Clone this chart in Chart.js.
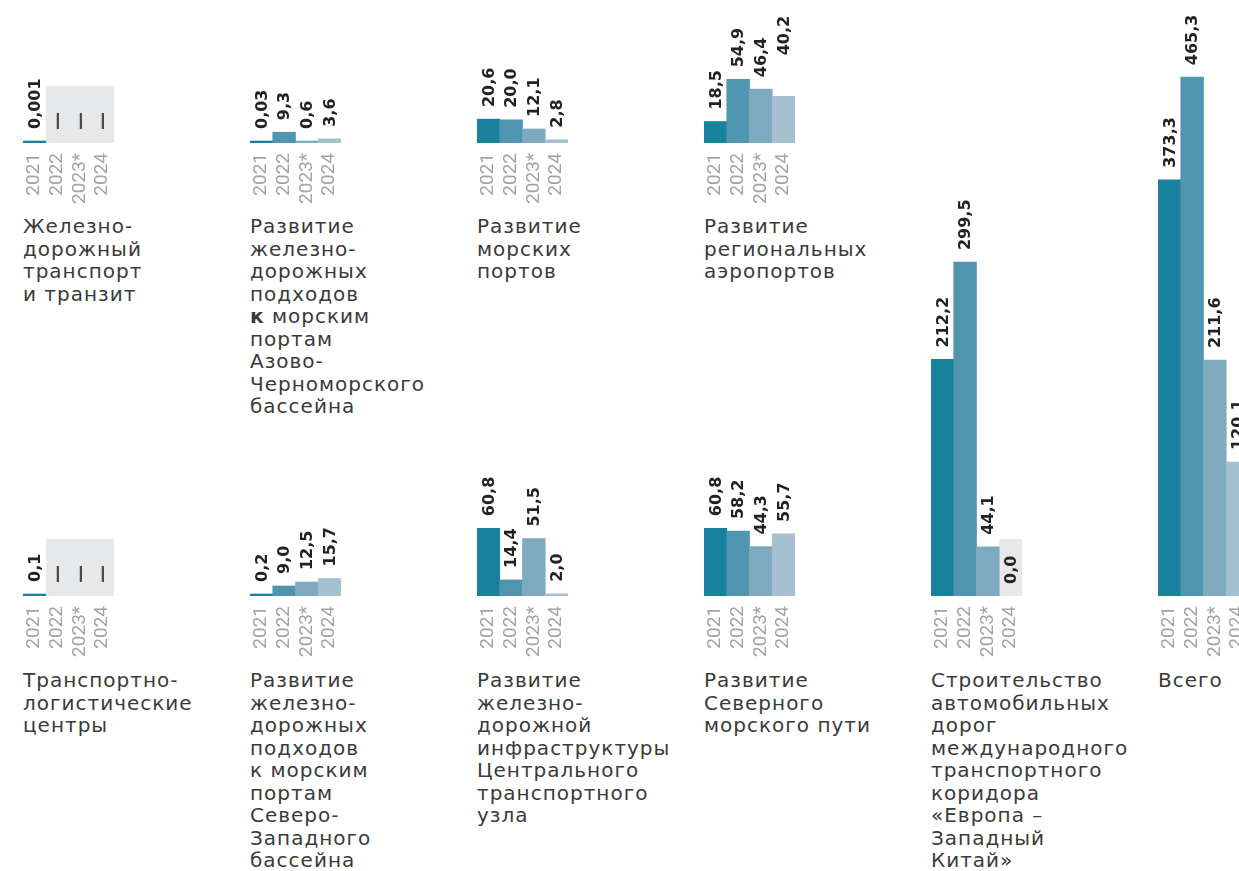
<!DOCTYPE html>
<html lang="ru">
<head>
<meta charset="utf-8">
<script src="https://cdn.jsdelivr.net/npm/chart.js@4.4.1/dist/chart.umd.min.js"></script>
<style>
  html, body { margin: 0; padding: 0; width: 1239px; height: 871px; overflow: hidden; background: #ffffff; }
  .panel { position: absolute; }
  .cap {
    position: absolute;
    font-family: "DejaVu Sans", sans-serif;
    font-size: 20px;
    line-height: 22.5px;
    color: #3a3a3a;
    letter-spacing: 1px;
    white-space: nowrap;
  }
  .cap b { font-weight: bold; }
</style>
</head>
<body>
<script>
// ---------- DATA ----------
const years = ['2021', '2022', '2023*', '2024'];

const railTransit      = [0.001, null, null, null];
const railAzovBlackSea = [0.03, 9.3, 0.6, 3.6];
const seaPorts         = [20.6, 20.0, 12.1, 2.8];
const regionalAirports = [18.5, 54.9, 46.4, 40.2];
const logisticsCenters = [0.1, null, null, null];
const railNorthWest    = [0.2, 9.0, 12.5, 15.7];
const railCentralHub   = [60.8, 14.4, 51.5, 2.0];
const northernSeaRoute = [60.8, 58.2, 44.3, 55.7];
const europeWestChina  = [212.2, 299.5, 44.1, 0.0];
const totalAll         = [373.3, 465.3, 211.6, 120.1];

const titleRailTransit      = ['Железно-', 'дорожный', 'транспорт', 'и транзит'];
const titleRailAzovBlackSea = ['Развитие', 'железно-', 'дорожных', 'подходов', '<b>к</b> морским', 'портам', 'Азово-', 'Черноморского', 'бассейна'];
const titleSeaPorts         = ['Развитие', 'морских', 'портов'];
const titleRegionalAirports = ['Развитие', 'региональных', 'аэропортов'];
const titleLogisticsCenters = ['Транспортно-', 'логистические', 'центры'];
const titleRailNorthWest    = ['Развитие', 'железно-', 'дорожных', 'подходов', 'к морским', 'портам', 'Северо-', 'Западного', 'бассейна'];
const titleRailCentralHub   = ['Развитие', 'железно-', 'дорожной', 'инфраструктуры', 'Центрального', 'транспортного', 'узла'];
const titleNorthernSeaRoute = ['Развитие', 'Северного', 'морского пути'];
const titleEuropeWestChina  = ['Строительство', 'автомобильных', 'дорог', 'международного', 'транспортного', 'коридора', '«Европа –', 'Западный', 'Китай»'];
const titleTotalAll         = ['Всего'];

const naLabel = '—';

// ---------- STYLE / LAYOUT ----------
const COLORS = ['#18829d', '#5095af', '#7eaabf', '#a5c1d1'];
const EMPTY_BG = '#e7e8ea';
const ROW_PX_PER_UNIT = [1.16, 1.115];
const COL_X0 = 23, COL_STEP = 227, PLOT_W = 91, SIDE_PAD = 30;
const ROW_BASE = [143, 596];
const SMALL_H = 143;
const AXIS_H = 70;
const EMPTY_H = 57;
const LABEL_GAP = 12;

const panels = [
  { values: railTransit,      title: titleRailTransit,      col: 0, row: 0 },
  { values: railAzovBlackSea, title: titleRailAzovBlackSea, col: 1, row: 0 },
  { values: seaPorts,         title: titleSeaPorts,         col: 2, row: 0 },
  { values: regionalAirports, title: titleRegionalAirports, col: 3, row: 0, lift: { 3: 29 } },
  { values: logisticsCenters, title: titleLogisticsCenters, col: 0, row: 1 },
  { values: railNorthWest,    title: titleRailNorthWest,    col: 1, row: 1 },
  { values: railCentralHub,   title: titleRailCentralHub,   col: 2, row: 1 },
  { values: northernSeaRoute, title: titleNorthernSeaRoute, col: 3, row: 1 },
  { values: europeWestChina,  title: titleEuropeWestChina,  col: 4, row: 1, tall: true },
  { values: totalAll,         title: titleTotalAll,         col: 5, row: 1, tall: true }
];

function fmt(v) {
  return v.toLocaleString('ru-RU', { minimumFractionDigits: 1, maximumFractionDigits: 3 });
}

const emptyBoxPlugin = {
  id: 'emptyBox',
  beforeDatasetsDraw(chart) {
    const { ctx, chartArea, scales } = chart;
    const vals = chart.data.datasets[0].data;
    const bw = chartArea.width / vals.length;
    const base = scales.y.getPixelForValue(0);
    ctx.save();
    ctx.fillStyle = EMPTY_BG;
    vals.forEach((v, i) => {
      if (v === null || v === 0) {
        const x0 = Math.round(chartArea.left + bw * i);
        const x1 = Math.round(chartArea.left + bw * (i + 1));
        ctx.fillRect(x0, Math.round(base - EMPTY_H), x1 - x0, EMPTY_H);
      }
    });
    ctx.restore();
  }
};

const valueLabelPlugin = {
  id: 'valueLabels',
  afterDatasetsDraw(chart, args, opts) {
    const { ctx, scales } = chart;
    const meta = chart.getDatasetMeta(0);
    const vals = chart.data.datasets[0].data;
    const base = scales.y.getPixelForValue(0);
    const lift = opts.lift || {};
    ctx.save();
    vals.forEach((v, i) => {
      const x = scales.x.getPixelForValue(i);
      let text, top;
      if (v === null) {
        text = naLabel; top = base - 1;
        ctx.font = 'bold 18px "DejaVu Sans"';
        ctx.fillStyle = '#4a4a4a';
      } else {
        text = fmt(v);
        top = v === 0 ? base : meta.data[i].y;
        ctx.font = 'bold 16px "DejaVu Sans"';
        ctx.fillStyle = '#222222';
      }
      const y = top - LABEL_GAP - (lift[i] || 0);
      ctx.save();
      ctx.translate(x, y);
      ctx.rotate(-Math.PI / 2);
      ctx.textAlign = 'left';
      ctx.textBaseline = 'middle';
      ctx.fillText(text, 0, 1);
      ctx.restore();
    });
    ctx.restore();
  }
};

panels.forEach(p => {
  const base = ROW_BASE[p.row];
  const top = p.tall ? 0 : base - SMALL_H;
  const plotH = base - top;
  const colX = COL_X0 + p.col * COL_STEP;

  const wrap = document.createElement('div');
  wrap.className = 'panel';
  wrap.style.left = (colX - SIDE_PAD) + 'px';
  wrap.style.top = top + 'px';
  const canvas = document.createElement('canvas');
  canvas.width = PLOT_W + SIDE_PAD * 2;
  canvas.height = plotH + AXIS_H;
  canvas.style.width = canvas.width + 'px';
  canvas.style.height = canvas.height + 'px';
  wrap.appendChild(canvas);
  document.body.appendChild(wrap);

  new Chart(canvas, {
    type: 'bar',
    data: {
      labels: years,
      datasets: [{
        data: p.values,
        backgroundColor: c => (c.raw === 0 ? 'rgba(0,0,0,0)' : COLORS[c.dataIndex]),
        borderWidth: 0,
        barPercentage: 1,
        categoryPercentage: 1,
        minBarLength: 2
      }]
    },
    options: {
      responsive: false,
      animation: false,
      devicePixelRatio: 1,
      layout: { padding: { left: SIDE_PAD, right: SIDE_PAD, top: 0, bottom: 0 } },
      plugins: {
        legend: { display: false },
        tooltip: { enabled: false },
        valueLabels: { lift: p.lift || {} }
      },
      scales: {
        y: { display: false, min: 0, max: plotH / ROW_PX_PER_UNIT[p.row] },
        x: {
          grid: { display: false, drawTicks: false },
          border: { display: false },
          ticks: {
            color: '#a3a3a3',
            font: { family: '"Liberation Sans Narrow", "Roboto", sans-serif', size: 19, weight: 'normal' },
            minRotation: 90,
            maxRotation: 90,
            autoSkip: false,
            padding: 10
          },
          afterFit: s => { s.height = AXIS_H; }
        }
      }
    },
    plugins: [emptyBoxPlugin, valueLabelPlugin]
  });

  const cap = document.createElement('div');
  cap.className = 'cap';
  cap.style.left = colX + 'px';
  cap.style.top = (p.row === 0 ? 215 : 669) + 'px';
  cap.innerHTML = p.title.join('<br>');
  document.body.appendChild(cap);
});
</script>
</body>
</html>
